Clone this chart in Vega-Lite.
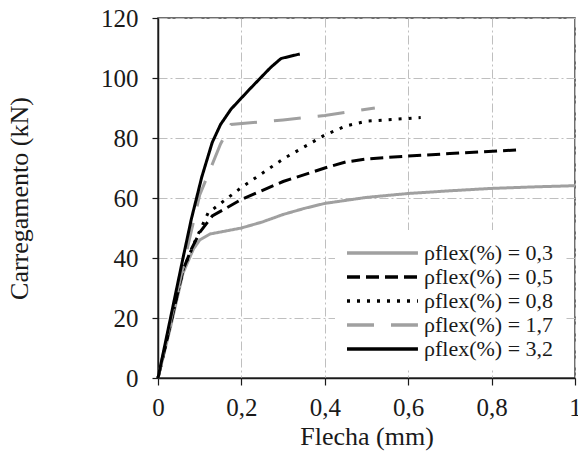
{
  "$schema": "https://vega.github.io/schema/vega-lite/v6.json",
  "width": 417,
  "height": 360,
  "autosize": "none",
  "padding": {"left": 158, "top": 18, "right": 3, "bottom": 77},
  "background": "white",
  "config": {
    "view": {"stroke": "#404040", "strokeWidth": 1.5},
    "font": "'Liberation Serif', 'Times New Roman', serif",
    "axis": {
      "labelFont": "'Liberation Serif', 'Times New Roman', serif",
      "titleFont": "'Liberation Serif', 'Times New Roman', serif",
      "labelFontSize": 25,
      "titleFontSize": 26,
      "titleFontWeight": "normal",
      "labelColor": "#1a1a1a",
      "titleColor": "#1a1a1a",
      "domainColor": "#1a1a1a",
      "tickColor": "#1a1a1a",
      "domainWidth": 1.5,
      "tickWidth": 1.2,
      "gridColor": "#bfbfbf",
      "gridDash": [9, 3, 2, 3],
      "gridWidth": 1
    },
    "legend": {
      "labelFont": "'Liberation Serif', 'Times New Roman', serif",
      "labelFontSize": 22,
      "labelColor": "#1a1a1a"
    }
  },
  "data": {
    "values": [
      {"x": 0, "y": 0, "s": "ρflex(%) = 0,3"},
      {"x": 0.03, "y": 17, "s": "ρflex(%) = 0,3"},
      {"x": 0.06, "y": 35, "s": "ρflex(%) = 0,3"},
      {"x": 0.085, "y": 43, "s": "ρflex(%) = 0,3"},
      {"x": 0.1, "y": 46, "s": "ρflex(%) = 0,3"},
      {"x": 0.125, "y": 48, "s": "ρflex(%) = 0,3"},
      {"x": 0.2, "y": 50, "s": "ρflex(%) = 0,3"},
      {"x": 0.25, "y": 52, "s": "ρflex(%) = 0,3"},
      {"x": 0.3, "y": 54.5, "s": "ρflex(%) = 0,3"},
      {"x": 0.35, "y": 56.5, "s": "ρflex(%) = 0,3"},
      {"x": 0.4, "y": 58.2, "s": "ρflex(%) = 0,3"},
      {"x": 0.5, "y": 60.2, "s": "ρflex(%) = 0,3"},
      {"x": 0.6, "y": 61.5, "s": "ρflex(%) = 0,3"},
      {"x": 0.7, "y": 62.4, "s": "ρflex(%) = 0,3"},
      {"x": 0.8, "y": 63.2, "s": "ρflex(%) = 0,3"},
      {"x": 0.9, "y": 63.7, "s": "ρflex(%) = 0,3"},
      {"x": 1.0, "y": 64.1, "s": "ρflex(%) = 0,3"},

      {"x": 0, "y": 0, "s": "ρflex(%) = 0,5"},
      {"x": 0.03, "y": 18, "s": "ρflex(%) = 0,5"},
      {"x": 0.06, "y": 36, "s": "ρflex(%) = 0,5"},
      {"x": 0.08, "y": 43, "s": "ρflex(%) = 0,5"},
      {"x": 0.1, "y": 48.5, "s": "ρflex(%) = 0,5"},
      {"x": 0.13, "y": 54, "s": "ρflex(%) = 0,5"},
      {"x": 0.2, "y": 59.5, "s": "ρflex(%) = 0,5"},
      {"x": 0.3, "y": 65.5, "s": "ρflex(%) = 0,5"},
      {"x": 0.4, "y": 70, "s": "ρflex(%) = 0,5"},
      {"x": 0.45, "y": 72, "s": "ρflex(%) = 0,5"},
      {"x": 0.5, "y": 73, "s": "ρflex(%) = 0,5"},
      {"x": 0.6, "y": 74, "s": "ρflex(%) = 0,5"},
      {"x": 0.7, "y": 74.8, "s": "ρflex(%) = 0,5"},
      {"x": 0.86, "y": 76, "s": "ρflex(%) = 0,5"},

      {"x": 0, "y": 0, "s": "ρflex(%) = 0,8"},
      {"x": 0.03, "y": 18, "s": "ρflex(%) = 0,8"},
      {"x": 0.06, "y": 36, "s": "ρflex(%) = 0,8"},
      {"x": 0.09, "y": 46, "s": "ρflex(%) = 0,8"},
      {"x": 0.12, "y": 55, "s": "ρflex(%) = 0,8"},
      {"x": 0.2, "y": 63.5, "s": "ρflex(%) = 0,8"},
      {"x": 0.3, "y": 73, "s": "ρflex(%) = 0,8"},
      {"x": 0.4, "y": 81, "s": "ρflex(%) = 0,8"},
      {"x": 0.45, "y": 84, "s": "ρflex(%) = 0,8"},
      {"x": 0.5, "y": 85.6, "s": "ρflex(%) = 0,8"},
      {"x": 0.63, "y": 86.8, "s": "ρflex(%) = 0,8"},

      {"x": 0, "y": 0, "s": "ρflex(%) = 1,7"},
      {"x": 0.03, "y": 19, "s": "ρflex(%) = 1,7"},
      {"x": 0.06, "y": 37, "s": "ρflex(%) = 1,7"},
      {"x": 0.1, "y": 61, "s": "ρflex(%) = 1,7"},
      {"x": 0.15, "y": 78, "s": "ρflex(%) = 1,7"},
      {"x": 0.175, "y": 84.5, "s": "ρflex(%) = 1,7"},
      {"x": 0.3, "y": 86, "s": "ρflex(%) = 1,7"},
      {"x": 0.4, "y": 87.5, "s": "ρflex(%) = 1,7"},
      {"x": 0.52, "y": 90, "s": "ρflex(%) = 1,7"},

      {"x": 0, "y": 0, "s": "ρflex(%) = 3,2"},
      {"x": 0.03, "y": 20, "s": "ρflex(%) = 3,2"},
      {"x": 0.06, "y": 40, "s": "ρflex(%) = 3,2"},
      {"x": 0.08, "y": 53, "s": "ρflex(%) = 3,2"},
      {"x": 0.105, "y": 67, "s": "ρflex(%) = 3,2"},
      {"x": 0.13, "y": 78.5, "s": "ρflex(%) = 3,2"},
      {"x": 0.15, "y": 84.5, "s": "ρflex(%) = 3,2"},
      {"x": 0.175, "y": 89.6, "s": "ρflex(%) = 3,2"},
      {"x": 0.22, "y": 96.3, "s": "ρflex(%) = 3,2"},
      {"x": 0.27, "y": 103.5, "s": "ρflex(%) = 3,2"},
      {"x": 0.295, "y": 106.5, "s": "ρflex(%) = 3,2"},
      {"x": 0.34, "y": 108, "s": "ρflex(%) = 3,2"}
    ]
  },
  "mark": {"type": "line", "strokeWidth": 3, "strokeCap": "butt"},
  "encoding": {
    "x": {
      "field": "x", "type": "quantitative",
      "scale": {"domain": [0, 1], "nice": false},
      "axis": {
        "title": "Flecha (mm)",
        "values": [0, 0.2, 0.4, 0.6, 0.8, 1],
        "labelExpr": "replace(format(datum.value, '.1~f'), '.', ',')",
        "tickSize": 7,
        "labelPadding": 10,
        "titlePadding": 3,
        "labelFlush": false
      }
    },
    "y": {
      "field": "y", "type": "quantitative",
      "scale": {"domain": [0, 120], "nice": false},
      "axis": {
        "title": "Carregamento (kN)",
        "values": [0, 20, 40, 60, 80, 100, 120],
        "tickSize": 6,
        "labelPadding": 14,
        "titleX": -126
      }
    },
    "color": {
      "field": "s", "type": "nominal",
      "scale": {
        "domain": ["ρflex(%) = 0,3", "ρflex(%) = 0,5", "ρflex(%) = 0,8", "ρflex(%) = 1,7", "ρflex(%) = 3,2"],
        "range": ["#a0a0a0", "#000000", "#000000", "#a0a0a0", "#000000"]
      },
      "legend": {
        "title": null,
        "orient": "none",
        "legendX": 177,
        "legendY": 212,
        "fillColor": "white",
        "padding": 10,
        "symbolType": "M-1,0H5.45",
        "symbolSize": 484,
        "symbolStrokeWidth": 3.5,
        "labelLimit": 300,
        "labelOffset": 53,
        "rowPadding": 0
      }
    },
    "strokeDash": {
      "field": "s", "type": "nominal",
      "scale": {
        "domain": ["ρflex(%) = 0,3", "ρflex(%) = 0,5", "ρflex(%) = 0,8", "ρflex(%) = 1,7", "ρflex(%) = 3,2"],
        "range": [[1, 0], [13, 6], [3, 7], [27, 17], [1, 0]]
      },
      "legend": {
        "title": null,
        "orient": "none",
        "legendX": 177,
        "legendY": 212,
        "fillColor": "white",
        "padding": 10,
        "symbolType": "M-1,0H5.45",
        "symbolSize": 484,
        "symbolStrokeWidth": 3.5,
        "labelLimit": 300,
        "labelOffset": 53,
        "rowPadding": 0
      }
    }
  }
}
